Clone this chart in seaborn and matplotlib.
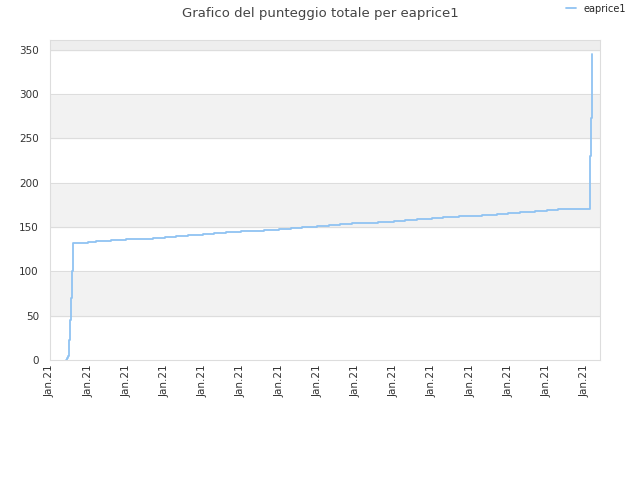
import numpy as np
import seaborn as sns
import matplotlib
matplotlib.use("Agg")
import matplotlib.pyplot as plt

sns.set_theme(style="white")
plt.rcParams['font.family'] = ['DejaVu Sans']

# x in tick units (one "Jan.21" tick per unit), y = total score
xs = [0.42, 0.45, 0.47, 0.49, 0.50, 0.51, 0.52, 0.53, 0.55, 0.57, 0.58,
      0.60, 1.0, 1.2, 1.6, 2.0, 2.4, 2.7, 3.0, 3.3, 3.6, 4.0, 4.3, 4.6,
      5.0, 5.3, 5.6, 6.0, 6.3, 6.6, 7.0, 7.3, 7.6, 7.9, 8.3, 8.6, 9.0,
      9.3, 9.6, 10.0, 10.3, 10.7, 11.0, 11.3, 11.7, 12.0, 12.3, 12.7,
      13.0, 13.3, 13.7, 14.13, 14.14, 14.16, 14.17, 14.18, 14.19]
ys = [0, 2, 5, 8, 15, 22, 33, 45, 70, 85, 100,
      132, 133, 134, 135, 136, 137, 138, 139, 140, 141, 142, 143, 144,
      145, 146, 147, 148, 149, 150, 151, 152, 153, 154, 155, 156, 157,
      158, 159, 160, 161, 162, 163, 164, 165, 166, 167, 168,
      169, 170, 170, 208, 230, 250, 273, 295, 345]
tick_labels = ["Jan.21"] * 15

fig = plt.figure(figsize=(6.4, 4.8), dpi=100)
ax = fig.add_axes([50/640, 120/480, 550/640, 320/480])
ax.set_xlim(0, 14.4)
ax.set_ylim(0, 361)

# alternating bands
for i, lo in enumerate(range(0, 350, 50)):
    ax.axhspan(lo, lo + 50, color="#f2f2f2" if i % 2 else "white", zorder=0)
ax.axhspan(350, 361, color="#eeeeee", zorder=0)
for y in range(50, 351, 50):
    ax.axhline(y, color="#dddddd", lw=0.8, zorder=1)

sns.lineplot(x=xs, y=ys, drawstyle="steps-post", color="#90c3f2", lw=1.3,
             ax=ax, label="eaprice1", zorder=2)

ax.set_xticks(range(15))
ax.set_xticklabels(tick_labels, rotation=90, fontsize=7.5, color="#333333")
ax.set_yticks(range(0, 351, 50))
ax.tick_params(axis="y", labelsize=7.5, colors="#333333", length=0, pad=8)
ax.tick_params(axis="x", length=0, pad=3)
for s in ax.spines.values():
    s.set_color("#dddddd")
    s.set_linewidth(0.8)

ax.legend(loc="upper right", bbox_to_anchor=((630 - 50)/550, 1 + 40/320), frameon=False,
          fontsize=7, handlelength=1.0, borderaxespad=0)
fig.suptitle("Grafico del punteggio totale per eaprice1", y=0.985, fontsize=9.5, color="#444444")

fig.savefig("out.png", dpi=100)
